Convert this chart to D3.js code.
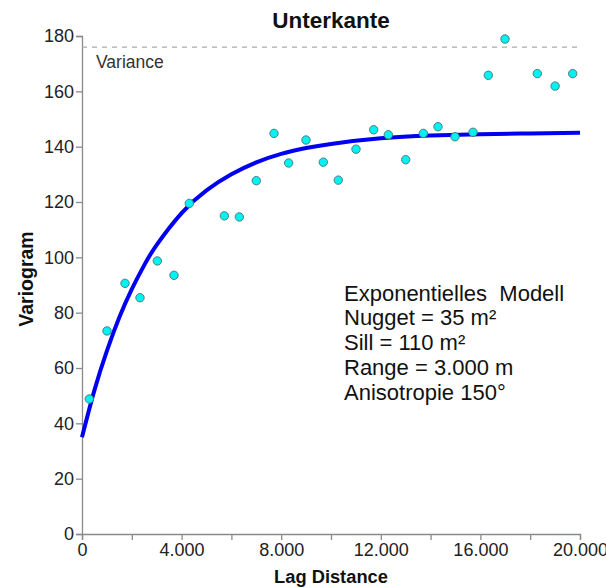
<!DOCTYPE html>
<html>
<head>
<meta charset="utf-8">
<script src="https://cdn.jsdelivr.net/npm/d3@7"></script>
<style>
  body { margin: 0; background: #fff; }
  svg { font-family: "Liberation Sans", Arial, sans-serif; }
</style>
</head>
<body>
<div id="plot"></div>
<script>
// experimental variogram points (lag, gamma)
const lags = [293, 1004, 1727, 2329, 3025, 3695, 4310, 5716, 6318, 7000, 7711, 8300,
  8996, 9691, 10293, 11004, 11715, 12303, 13000, 13709, 14297, 14980, 15703,
  16318, 16988, 18285, 19000, 19707];
const gammas = [48.8, 73.4, 90.6, 85.4, 98.7, 93.5, 119.5, 115.0, 114.6, 127.7, 144.8, 134.1,
  142.4, 134.4, 127.9, 139.1, 146.1, 144.3, 135.3, 144.8, 147.2, 143.6, 145.2,
  165.8, 178.9, 166.4, 161.9, 166.4];

// fitted model curve
const modelLags = [0, 500, 1000, 1500, 2000, 2500, 3000, 4000, 5000, 6000, 7000, 8000,
  9000, 10000, 12000, 14000, 16000, 18000, 20000];
const modelGammas = [35, 52, 66.2, 78.3, 88.5, 97.2, 104.5, 116, 124.2, 130, 134.3, 137.4,
  139.5, 141, 143, 144, 144.5, 144.8, 145];

const variance = 176;
const xTicks = [0, 2000, 4000, 6000, 8000, 10000, 12000, 14000, 16000, 18000, 20000];
const yTicks = [0, 20, 40, 60, 80, 100, 120, 140, 160, 180];
const modelText = ["Exponentielles  Modell", "Nugget = 35 m²", "Sill = 110 m²",
  "Range = 3.000 m", "Anisotropie 150°"];

const margin = {top: 36, right: 26, bottom: 54, left: 82},
      width = 606 - margin.left - margin.right,
      height = 588 - margin.top - margin.bottom;

const x = d3.scaleLinear().domain([0, 20000]).range([0, width]);
const y = d3.scaleLinear().domain([0, 180]).range([height, 0]);

const svg = d3.select("#plot").append("svg")
    .attr("width", 606)
    .attr("height", 588)
  .append("g")
    .attr("transform", `translate(${margin.left},${margin.top})`);

// number format with dot as thousands separator
const fmt = d => d3.format(",")(d).replace(/,/g, ".");

// Y axis
const yAxis = svg.append("g")
    .call(d3.axisLeft(y).tickValues(yTicks).tickSize(6).tickPadding(2));
// X axis
const xAxis = svg.append("g")
    .attr("transform", `translate(0,${height})`)
    .call(d3.axisBottom(x).tickValues(xTicks).tickSize(6).tickPadding(3)
      .tickFormat(d => d % 4000 === 0 ? fmt(d) : ""));

[xAxis, yAxis].forEach(a => {
  a.select(".domain").attr("stroke", "#8a8a8a").attr("stroke-width", 1.3);
  a.selectAll(".tick line").attr("stroke", "#8a8a8a").attr("stroke-width", 1.3);
  a.selectAll(".tick text")
    .attr("fill", "#222")
    .attr("font-size", "18px")
    .attr("font-family", "Liberation Sans, Arial, sans-serif");
});

// variance line
svg.append("line")
    .attr("x1", 0).attr("x2", width)
    .attr("y1", y(variance)).attr("y2", y(variance))
    .attr("stroke", "#aaa")
    .attr("stroke-width", 1.3)
    .attr("stroke-dasharray", "5,5");

svg.append("text")
    .attr("x", 14)
    .attr("y", y(variance) + 21)
    .attr("font-size", "17.5px")
    .attr("fill", "#333")
    .text("Variance");

// model curve
const line = d3.line()
    .x((d, i) => x(modelLags[i]))
    .y(d => y(d))
    .curve(d3.curveNatural);

svg.append("path")
    .datum(modelGammas)
    .attr("fill", "none")
    .attr("stroke", "#0000f0")
    .attr("stroke-width", 4)
    .attr("d", line);

// points
svg.selectAll(".pt")
    .data(lags)
  .enter().append("circle")
    .attr("class", "pt")
    .attr("cx", d => x(d))
    .attr("cy", (d, i) => y(gammas[i]))
    .attr("r", 4.2)
    .attr("fill", "#00f2f2")
    .attr("stroke", "#4d7f80")
    .attr("stroke-width", 1);

// title
svg.append("text")
    .attr("text-anchor", "middle")
    .attr("x", width / 2)
    .attr("y", -8)
    .attr("font-size", "22.5px")
    .attr("font-weight", "bold")
    .attr("fill", "#111")
    .text("Unterkante");

// X axis title
svg.append("text")
    .attr("text-anchor", "middle")
    .attr("x", width / 2)
    .attr("y", height + 49)
    .attr("font-size", "18.3px")
    .attr("font-weight", "bold")
    .attr("fill", "#111")
    .text("Lag Distance");

// Y axis title
svg.append("text")
    .attr("text-anchor", "middle")
    .attr("transform", "rotate(-90)")
    .attr("x", -243)
    .attr("y", -49)
    .attr("font-size", "19.5px")
    .attr("font-weight", "bold")
    .attr("fill", "#111")
    .text("Variogram");

// model annotation
svg.append("g")
    .selectAll("text")
    .data(modelText)
  .enter().append("text")
    .attr("x", 262)
    .attr("y", (d, i) => 264.5 + i * 24.8)
    .attr("font-size", "22px")
    .attr("fill", "#111")
    .style("white-space", "pre")
    .text(d => d);
</script>
</body>
</html>
